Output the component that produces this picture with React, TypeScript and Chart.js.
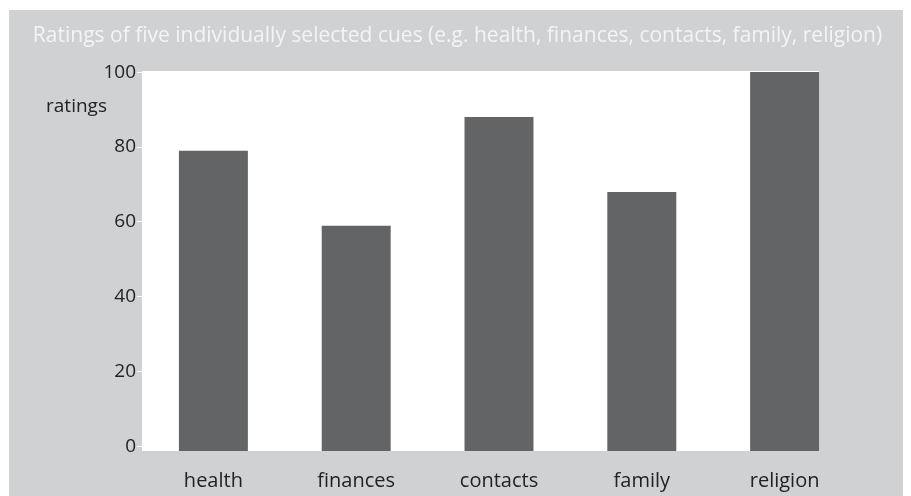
import React, { useEffect, useRef } from "react";
import { Chart, registerables } from "chart.js";

Chart.register(...registerables);

const titleText =
  "Ratings of five individually selected cues (e.g. health, finances, contacts, family, religion)";
const axisLabel = "ratings";
const categories = ["health", "finances", "contacts", "family", "religion"];
const ratings = [79, 59, 88, 68, 100];
const yTicks = [0, 20, 40, 60, 80, 100];

const FONT = "'Open Sans', Lato, sans-serif";

const decorPlugin = {
  id: "decor",
  beforeDraw(chart: any) {
    const { ctx, chartArea } = chart;
    const meta = chart.getDatasetMeta(0);
    const last = meta.data[meta.data.length - 1] as any;
    const right = last ? last.x + last.width / 2 : chartArea.right;
    ctx.save();
    ctx.fillStyle = "#d0d1d3";
    ctx.fillRect(0, 0, chart.width, chart.height);
    ctx.fillStyle = "#ffffff";
    ctx.fillRect(chartArea.left, chartArea.top, right - chartArea.left, chartArea.bottom - chartArea.top);
    ctx.restore();
  },
  afterDraw(chart: any) {
    const { ctx } = chart;
    ctx.save();
    ctx.fillStyle = "#f4f4f4";
    ctx.font = `21px ${FONT}`;
    ctx.textAlign = "center";
    ctx.textBaseline = "middle";
    ctx.fillText(titleText, 448.5, 26.5);
    ctx.fillStyle = "#222222";
    ctx.font = `19px ${FONT}`;
    ctx.fillText(axisLabel, 67.5, 97);
    ctx.restore();
  },
};

export default function App() {
  const ref = useRef<HTMLCanvasElement | null>(null);
  useEffect(() => {
    if (!ref.current) return;
    const chart = new Chart(ref.current, {
      type: "bar",
      data: {
        labels: categories,
        datasets: [
          {
            data: ratings,
            backgroundColor: "#636466",
            borderWidth: 0,
            barPercentage: 0.483,
            categoryPercentage: 1,
            base: -1.15,
          } as any,
        ],
      },
      options: {
        animation: false,
        responsive: false,
        layout: { padding: { top: 61, right: 55, left: 0, bottom: 0 } },
        plugins: { legend: { display: false }, title: { display: false }, tooltip: { enabled: false } },
        scales: {
          x: {
            grid: { display: false },
            border: { display: false },
            ticks: { color: "#222222", font: { family: FONT, size: 20 }, padding: 10, maxRotation: 0 },
            afterFit(scale: any) {
              scale.height = 45;
            },
          },
          y: {
            min: -1.15,
            max: 100.3,
            grid: { drawOnChartArea: false, drawTicks: true, tickLength: 5, color: "#ffffff", lineWidth: 1 },
            border: { display: false },
            ticks: { color: "#222222", font: { family: FONT, size: 19 }, padding: 1 },
            afterBuildTicks(scale: any) {
              scale.ticks = yTicks.map((v) => ({ value: v }));
            },
            afterFit(scale: any) {
              scale.width = 133;
            },
          },
        },
      },
      plugins: [decorPlugin],
    });
    return () => chart.destroy();
  }, []);
  return (
    <div style={{ marginLeft: 1, marginTop: 2, width: 902, height: 486 }}>
      <canvas ref={ref} width={902} height={486} style={{ display: "block" }} />
    </div>
  );
}
